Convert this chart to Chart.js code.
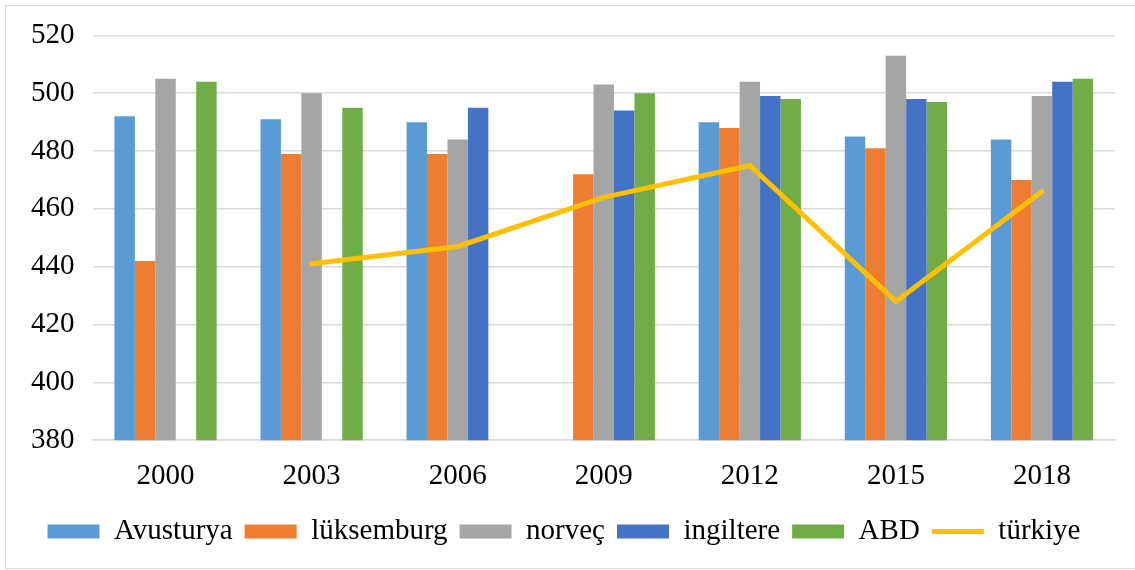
<!DOCTYPE html>
<html>
<head>
<meta charset="utf-8">
<script src="https://cdn.jsdelivr.net/npm/chart.js@4.4.0/dist/chart.umd.min.js"></script>
<style>
  html, body { margin: 0; padding: 0; background: #fff; }
  .wrap { position: relative; width: 1135px; height: 570px; }
  .frame { position: absolute; left: 5px; top: 5px; width: 1140px; height: 562px; border: 1px solid #d9d9d9; pointer-events: none; }
</style>
</head>
<body>
<div class="wrap"><canvas id="myChart"></canvas><div class="frame"></div></div>
<script>
const years = ["2000", "2003", "2006", "2009", "2012", "2015", "2018"];
const avusturya = [492, 491, 490, null, 490, 485, 484];
const luksemburg = [442, 479, 479, 472, 488, 481, 470];
const norvec = [505, 500, 484, 503, 504, 513, 499];
const ingiltere = [null, null, 495, 494, 499, 498, 504];
const abd = [504, 495, null, 500, 498, 497, 505];
const turkiye = [null, 441, 447, 464, 475, 428, 466];

const serif = "'Liberation Serif', 'Times New Roman', serif";

function bar(label, data, color) {
  return {
    type: "bar",
    label: label,
    data: data,
    backgroundColor: color,
    borderWidth: 0,
    pointStyle: "rect",
    order: 1
  };
}

new Chart("myChart", {
  data: {
    labels: years,
    datasets: [
      bar("Avusturya", avusturya, "#5b9bd5"),
      bar("lüksemburg", luksemburg, "#ed7d31"),
      bar("norveç", norvec, "#a5a5a5"),
      bar("ingiltere", ingiltere, "#4472c4"),
      bar("ABD", abd, "#70ad47"),
      {
        type: "line",
        label: "türkiye",
        data: turkiye,
        borderColor: "#ffc000",
        backgroundColor: "#ffc000",
        borderWidth: 5,
        borderCapStyle: "round",
        pointRadius: 0,
        pointStyle: "line",
        tension: 0,
        fill: false,
        order: 0
      }
    ]
  },
  options: {
    responsive: true,
    maintainAspectRatio: false,
    animation: false,
    datasets: { bar: { categoryPercentage: 0.7, barPercentage: 1 } },
    layout: { padding: { left: 13, right: 20, top: 6, bottom: 14 } },
    scales: {
      x: {
        grid: { display: false },
        border: { color: "#d9d9d9", width: 1.5 },
        ticks: { color: "#000", font: { family: serif, size: 29 }, padding: 11 }
      },
      y: {
        min: 380,
        max: 520,
        ticks: { stepSize: 20, color: "#000", font: { family: serif, size: 29 }, padding: 18 },
        grid: { color: "#d9d9d9", lineWidth: 1.5, drawTicks: false },
        border: { display: false }
      }
    },
    plugins: {
      legend: {
        position: "bottom",
        labels: {
          color: "#000",
          font: { family: serif, size: 29 },
          usePointStyle: true,
          pointStyleWidth: 52,
          boxHeight: 14,
          padding: 12,
          sort: (a, b) => a.datasetIndex - b.datasetIndex
        }
      },
      tooltip: { enabled: false }
    }
  }
});
</script>
</body>
</html>
